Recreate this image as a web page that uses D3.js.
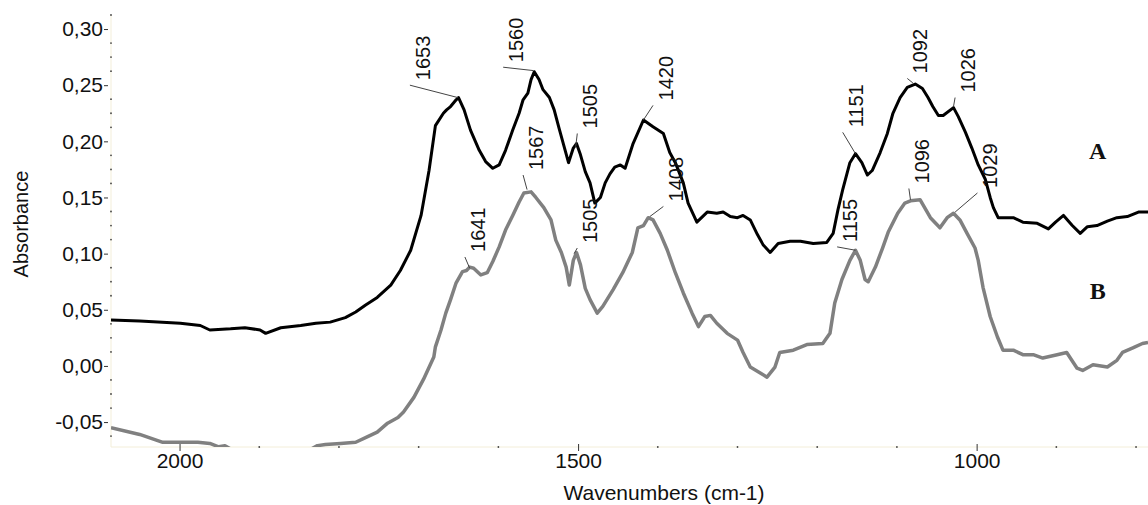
<!DOCTYPE html>
<html lang="en">
<head>
<meta charset="UTF-8">
<title>FTIR spectra A and B</title>
<script src="https://cdnjs.cloudflare.com/ajax/libs/d3/7.8.5/d3.min.js"></script>
<style>
    body { margin: 0; background: #ffffff; }
    svg text { font-family: "Liberation Sans", Arial, sans-serif; fill: #111; }
    .series-name { font-family: "Liberation Serif", "Times New Roman", serif; font-weight: bold; font-size: 24px; }
    .peak text { font-size: 20px; }
    .axis text { font-size: 21px; }
    .axis line { stroke: #333; }
</style>
</head>
<body>
<div id="chart"></div>
<script>
// spectrum A (black)
var wnA = [2086,2050,1999,1974,1962,1936,1918,1899,1892,1873,1848,1829,1811,1792,1779,1767,1752,1735,1723,1710,
    1697,1687,1679,1669,1665,1660,1653,1650,1643,1635,1624,1616,1607,1599,1591,1582,1574,1569,1563,1559,
    1555,1549,1544,1536,1530,1524,1517,1512,1506,1502,
    1497,1491,1485,1479,1472,1466,1460,1454,1447,1441,1431,1418,1406,1393,1385,1378,1368,1362,1351,1338,
    1326,1318,1309,1300,1293,1284,1275,1268,1259,1249,1234,1221,1205,1188,1180,1174,1168,1159,1152,1144,
    1137,1131,1121,1112,1105,1096,1087,1077,1068,1061,1055,1048,1042,1029,1023,1014,1006,998,989,983,
    979,973,954,942,924,910,901,891,880,870,861,849,836,824,811,797,785];
var absA = [0.041,0.040,0.038,0.036,0.032,0.033,0.034,0.032,0.029,0.034,0.036,0.038,0.039,0.043,0.048,0.054,0.061,0.072,0.085,0.103,
    0.134,0.174,0.214,0.225,0.228,0.231,0.237,0.239,0.228,0.210,0.192,0.182,0.176,0.179,0.192,0.210,0.225,0.237,0.243,0.255,
    0.262,0.255,0.246,0.239,0.228,0.212,0.194,0.181,0.194,0.198,
    0.188,0.173,0.163,0.145,0.150,0.163,0.171,0.177,0.179,0.176,0.198,0.219,0.213,0.207,0.190,0.181,0.163,0.145,0.128,0.137,
    0.136,0.137,0.133,0.132,0.134,0.130,0.117,0.108,0.101,0.109,0.111,0.111,0.109,0.110,0.118,0.139,0.157,0.181,0.189,0.181,
    0.170,0.174,0.190,0.207,0.225,0.239,0.248,0.251,0.247,0.239,0.231,0.223,0.223,0.230,0.222,0.208,0.194,0.179,0.166,0.150,
    0.141,0.132,0.132,0.128,0.127,0.122,0.128,0.134,0.125,0.118,0.124,0.125,0.129,0.132,0.133,0.137,0.137];

// spectrum B (grey)
var wnB = [2086,2050,2021,1990,1977,1962,1951,1943,1924,1886,1848,1827,1817,1798,1779,1764,1752,1739,1726,1719,
    1706,1694,1681,1679,1672,1666,1660,1653,1645,1640,1636,1631,1622,1614,1607,1599,1591,1582,1574,1568,
    1559,1553,1543,1534,1528,1521,1515,1511,1506,1502,
    1497,1491,1485,1476,1469,1456,1444,1432,1425,1418,1412,1406,1397,1388,1378,1368,1357,1349,1341,1334,
    1326,1313,1300,1293,1284,1272,1263,1253,1247,1230,1213,1193,1184,1178,1169,1159,1152,1146,1140,1136,
    1127,1118,1111,1099,1090,1083,1071,1058,1046,1037,1029,1021,1012,1002,998,992,983,974,967,954,
    942,929,917,899,887,874,867,854,836,824,817,804,792,785];
var absB = [-0.055,-0.061,-0.068,-0.068,-0.068,-0.069,-0.072,-0.071,-0.079,-0.084,-0.079,-0.071,-0.070,-0.069,-0.068,-0.063,-0.059,-0.051,-0.046,-0.041,
    -0.028,-0.012,0.008,0.017,0.032,0.047,0.059,0.074,0.084,0.085,0.088,0.087,0.081,0.083,0.093,0.106,0.121,0.134,0.146,0.154,
    0.155,0.150,0.141,0.130,0.112,0.101,0.088,0.072,0.094,0.101,
    0.090,0.069,0.059,0.047,0.053,0.068,0.083,0.101,0.123,0.125,0.132,0.130,0.118,0.103,0.083,0.065,0.047,0.035,0.044,0.045,
    0.038,0.029,0.023,0.012,-0.001,-0.006,-0.010,-0.001,0.012,0.014,0.019,0.020,0.029,0.056,0.077,0.094,0.103,0.094,0.077,0.075,
    0.088,0.105,0.119,0.136,0.145,0.147,0.148,0.132,0.123,0.132,0.136,0.130,0.118,0.105,0.094,0.070,0.044,0.026,0.014,0.014,
    0.010,0.010,0.007,0.010,0.012,-0.002,-0.004,0.001,-0.001,0.005,0.012,0.016,0.020,0.021];

// peak labels: peak point and end of the leader line
var peaks = [
    {t: "1653", wn: 1651, a: 0.239, lw: 1711, la: 0.250},
    {t: "1560", wn: 1556, a: 0.263, lw: 1594, la: 0.266},
    {t: "1505", wn: 1503, a: 0.195, lw: 1501, la: 0.207},
    {t: "1420", wn: 1418, a: 0.219, lw: 1406, la: 0.232},
    {t: "1151", wn: 1152, a: 0.189, lw: 1168, la: 0.208},
    {t: "1092", wn: 1080, a: 0.252, lw: 1087, la: 0.256},
    {t: "1026", wn: 1029, a: 0.231, lw: 1027, la: 0.239},
    {t: "1641", wn: 1636, a: 0.087, lw: 1642, la: 0.097},
    {t: "1567", wn: 1564, a: 0.157, lw: 1569, la: 0.170},
    {t: "1505", wn: 1505, a: 0.100, lw: 1501, la: 0.105},
    {t: "1408", wn: 1410, a: 0.133, lw: 1393, la: 0.142},
    {t: "1155", wn: 1152, a: 0.103, lw: 1175, la: 0.106},
    {t: "1096", wn: 1083, a: 0.148, lw: 1085, la: 0.158},
    {t: "1029", wn: 1027, a: 0.137, lw: 999, la: 0.154}
];

var seriesNames = [{t: "A", wn: 848, a: 0.184}, {t: "B", wn: 848, a: 0.060}];

var yTicks = [-0.05, 0, 0.05, 0.10, 0.15, 0.20, 0.25, 0.30];
var xTicks = [2000, 1500, 1000];

var width = 1148, height = 505;
var plotLeft = 111, plotRight = 1148, plotTop = 15, plotBottom = 447;

var x = d3.scaleLinear().domain([2086, 785]).range([plotLeft, plotRight]);
var y = d3.scaleLinear().domain([-0.0722, 0.3125]).range([plotBottom, plotTop]);
// decimal comma and a plain hyphen for the minus sign
var comma = function (v) { return d3.format(".2f")(v).replace(".", ",").replace("\u2212", "-"); };

var svg = d3.select("#chart").append("svg")
    .attr("width", width)
    .attr("height", height);

svg.append("defs").append("clipPath").attr("id", "plot")
    .append("rect")
    .attr("x", plotLeft).attr("y", plotTop)
    .attr("width", plotRight - plotLeft).attr("height", plotBottom - plotTop);

// faint axis lines
svg.append("line").attr("x1", plotLeft).attr("x2", plotLeft).attr("y1", plotTop).attr("y2", plotBottom)
    .style("stroke", "#f3eed9");
svg.append("line").attr("x1", plotLeft).attr("x2", plotRight).attr("y1", plotBottom).attr("y2", plotBottom)
    .style("stroke", "#f3eed9");

// axes
var yAxis = svg.append("g")
    .attr("class", "axis")
    .attr("transform", "translate(" + plotLeft + ",0)")
    .call(d3.axisLeft(y).tickValues(yTicks).tickSize(7).tickPadding(1).tickFormat(comma));
yAxis.selectAll(".tick line").attr("x1", -3);

var xAxis = svg.append("g")
    .attr("class", "axis")
    .attr("transform", "translate(0," + plotBottom + ")")
    .call(d3.axisBottom(x).tickValues(xTicks).tickSize(4).tickPadding(2).tickFormat(d3.format("d")));
xAxis.selectAll(".tick line").attr("y1", -3);
svg.selectAll(".axis .domain").remove();

// minor tick dots
var yMinor = d3.range(-0.0625, 0.32, 0.0125).filter(function (v) {
    return Math.abs(v / 0.05 - Math.round(v / 0.05)) > 0.01;
});
svg.append("g").selectAll("circle")
    .data(yMinor)
    .enter().append("circle")
    .attr("cx", plotLeft).attr("cy", function (d) { return y(d); })
    .attr("r", 0.9).style("fill", "#444");

var xMinor = d3.range(2000, 780, -100).filter(function (v) { return v % 500 !== 0; });
svg.append("g").selectAll("circle")
    .data(xMinor)
    .enter().append("circle")
    .attr("cx", function (d) { return x(d); }).attr("cy", plotBottom)
    .attr("r", 0.9).style("fill", "#444");

// spectra
var line = d3.line()
    .x(function (d) { return x(d[0]); })
    .y(function (d) { return y(d[1]); });

var plot = svg.append("g").attr("clip-path", "url(#plot)");

plot.append("path")
    .datum(d3.zip(wnB, absB))
    .attr("d", line)
    .style("fill", "none")
    .style("stroke", "#808080")
    .style("stroke-width", 3.5)
    .style("stroke-linejoin", "round");

plot.append("path")
    .datum(d3.zip(wnA, absA))
    .attr("d", line)
    .style("fill", "none")
    .style("stroke", "#000")
    .style("stroke-width", 3)
    .style("stroke-linejoin", "round");

// peak annotations
var pk = svg.append("g").attr("class", "peak").selectAll("g")
    .data(peaks)
    .enter().append("g");

pk.append("line")
    .attr("x1", function (d) { return x(d.wn); })
    .attr("y1", function (d) { return y(d.a); })
    .attr("x2", function (d) { return x(d.lw); })
    .attr("y2", function (d) { return y(d.la); })
    .style("stroke", "#444")
    .style("stroke-width", 1);

pk.append("text")
    .attr("transform", function (d) {
        return "translate(" + (x(d.lw) + 13) + "," + (y(d.la) - 5) + ") rotate(-90)";
    })
    .attr("dominant-baseline", "central")
    .text(function (d) { return d.t; });

svg.append("g").selectAll("text")
    .data(seriesNames)
    .enter().append("text")
    .attr("class", "series-name")
    .attr("x", function (d) { return x(d.wn); })
    .attr("y", function (d) { return y(d.a); })
    .attr("text-anchor", "middle")
    .text(function (d) { return d.t; });

// axis titles
svg.append("text")
    .attr("transform", "translate(28,224) rotate(-90)")
    .attr("text-anchor", "middle")
    .style("font-size", "20px")
    .text("Absorbance");

svg.append("text")
    .attr("x", 664)
    .attr("y", 500)
    .attr("text-anchor", "middle")
    .style("font-size", "21px")
    .text("Wavenumbers (cm-1)");
</script>
</body>
</html>
